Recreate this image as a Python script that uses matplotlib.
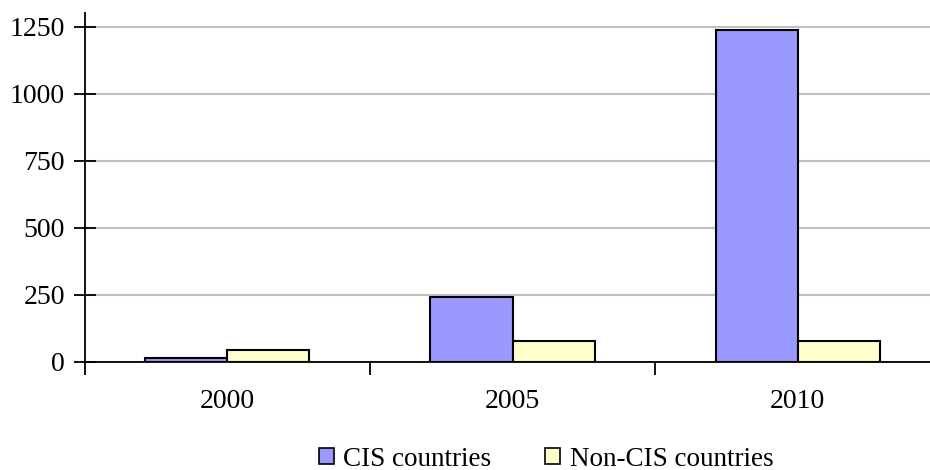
import matplotlib.pyplot as plt
import numpy as np
from matplotlib.patches import Patch

years = ["2000", "2005", "2010"]
cis = [14, 240, 1240]
non_cis = [44, 77, 75]
series_names = ["CIS countries", "Non-CIS countries"]
y_ticks = [0, 250, 500, 750, 1000, 1250]

plt.rcParams['font.family'] = ['Liberation Serif', 'DejaVu Serif']

fig = plt.figure(figsize=(9.3, 4.7), dpi=100)
W, H = 930, 470
left, right, bottom, top = 84.5, 940.5, 361.5, 12.7
ax = fig.add_axes([left / W, 1 - bottom / H, (right - left) / W, (bottom - top) / H])

x = np.arange(len(years))
bw = 0.288
ax.bar(x - bw / 2, cis, bw, color="#9999FF", edgecolor="black", linewidth=1.5, zorder=3)
ax.bar(x + bw / 2, non_cis, bw, color="#FFFFCC", edgecolor="black", linewidth=1.5, zorder=3)

ax.set_xlim(-0.5, len(years) - 0.5)
ax.set_ylim(0, 1303)
ax.set_yticks(y_ticks)
ax.set_yticklabels([str(v) for v in y_ticks], fontsize=20)
ax.yaxis.grid(True, color="#c0c0c0", linewidth=1.5, zorder=0)
ax.tick_params(axis='y', direction='inout', length=16, width=1.3, pad=6)

# category boundaries carry the tick marks; labels sit between them
ax.set_xticks(np.arange(-0.5, len(years), 1.0))
ax.set_xticklabels([])
ax.set_xticks(x, minor=True)
ax.set_xticklabels(years, minor=True, fontsize=20)
ax.tick_params(axis='x', which='major', direction='out', length=9, width=1.3)
ax.tick_params(axis='x', which='minor', length=0, pad=20)

for s in ["top", "right"]:
    ax.spines[s].set_visible(False)
for s in ["left", "bottom"]:
    ax.spines[s].set_linewidth(1.3)

handles = [Patch(facecolor="#9999FF", edgecolor="black", linewidth=1.2),
           Patch(facecolor="#FFFFCC", edgecolor="black", linewidth=1.2)]
fig.legend(handles, series_names, loc="center", bbox_to_anchor=(546 / W, 1 - 459 / H),
           ncol=2, frameon=False, fontsize=19.5, handlelength=0.55, handleheight=0.55,
           handletextpad=0.35, columnspacing=2.0, borderaxespad=0, borderpad=0)

fig.savefig("out.png", dpi=100)
